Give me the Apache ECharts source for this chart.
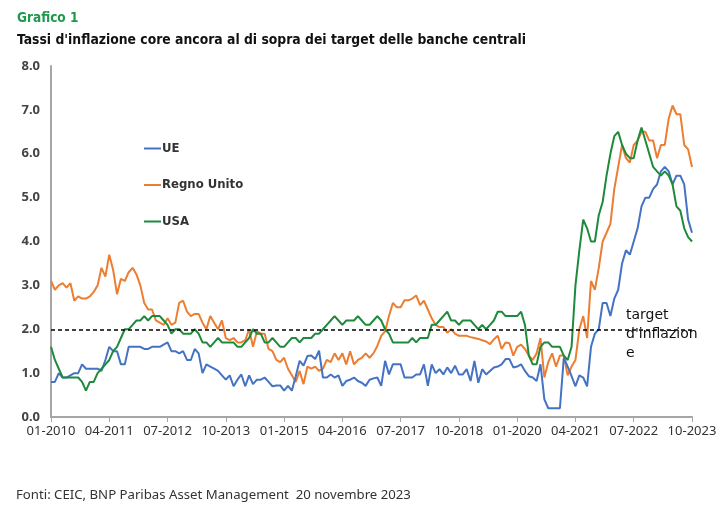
<!DOCTYPE html>
<html>
<head>
<meta charset="utf-8">
<script src="https://cdn.jsdelivr.net/npm/echarts@6/dist/echarts.min.js"></script>
<style>
html,body{margin:0;padding:0;background:#fff;}
#chart{width:725px;height:521px;}
</style>
</head>
<body>
<div id="chart"></div>
<script>
// Monthly categories Jan 2010 - Oct 2023
const months = [];
for (let y = 2010; y <= 2023; y++) {
  for (let m = 1; m <= 12; m++) {
    if (y === 2023 && m > 10) break;
    months.push((m < 10 ? '0' + m : '' + m) + '-' + y);
  }
}

const yTicks = [0, 1, 2, 3, 4, 5, 6, 7, 8];
const targetLevel = 2.0;

const ue = [
  0.8, 0.8, 1.0, 0.9, 0.9, 0.95, 1.0, 1.0, 1.2, 1.1, 1.1, 1.1,
  1.1, 1.05, 1.3, 1.6, 1.5, 1.5, 1.2, 1.2, 1.6, 1.6, 1.6, 1.6,
  1.55, 1.55, 1.6, 1.6, 1.6, 1.65, 1.7, 1.5, 1.5, 1.45, 1.5, 1.3,
  1.3, 1.55, 1.45, 1.0, 1.2, 1.15, 1.1, 1.05, 0.95, 0.85, 0.95, 0.7,
  0.85, 0.97, 0.7, 0.95, 0.75, 0.85, 0.85, 0.9, 0.8, 0.7, 0.72, 0.72,
  0.6, 0.71, 0.6, 0.93, 1.28, 1.17, 1.39, 1.4, 1.32, 1.51, 0.9, 0.9,
  0.97, 0.9, 0.95, 0.71, 0.82, 0.85, 0.9, 0.82, 0.78, 0.71, 0.85, 0.88,
  0.9, 0.71, 1.28, 0.97, 1.2, 1.2, 1.2, 0.9, 0.9, 0.9, 0.97, 0.97,
  1.2, 0.71, 1.2, 1.0, 1.09, 0.97, 1.13, 1.0, 1.17, 0.97, 0.97, 1.09,
  0.82, 1.28, 0.78, 1.09, 0.97, 1.05, 1.13, 1.15, 1.2, 1.32, 1.32, 1.13,
  1.15, 1.2, 1.05, 0.93, 0.9, 0.82, 1.2, 0.4, 0.2, 0.2, 0.2, 0.2,
  1.35, 1.15, 0.93, 0.7, 0.95, 0.9, 0.7, 1.6, 1.9, 2.0, 2.6, 2.6,
  2.3, 2.7, 2.9, 3.5, 3.8, 3.7, 4.0, 4.3, 4.8, 5.0, 5.0, 5.2,
  5.3, 5.6, 5.7, 5.6, 5.3, 5.5, 5.5, 5.3, 4.5, 4.2
];

const regnoUnito = [
  3.1, 2.9, 3.0, 3.05, 2.95, 3.05, 2.65, 2.75, 2.7, 2.7, 2.75, 2.85,
  3.0, 3.4, 3.2, 3.7, 3.35, 2.8, 3.15, 3.1, 3.3, 3.4, 3.25, 3.0,
  2.6, 2.45, 2.45, 2.2, 2.15, 2.1, 2.25, 2.1, 2.15, 2.6, 2.65, 2.4,
  2.3, 2.35, 2.35, 2.15, 2.0, 2.3, 2.15, 2.0, 2.2, 1.8, 1.75, 1.8,
  1.7, 1.7, 1.75, 2.0, 1.6, 1.95, 1.9, 1.9, 1.55, 1.5, 1.3, 1.25,
  1.35, 1.1, 0.95, 0.8, 1.05, 0.75, 1.15, 1.1, 1.15, 1.05, 1.1, 1.3,
  1.25, 1.45, 1.3, 1.45, 1.2, 1.5, 1.2, 1.3, 1.35, 1.45, 1.35, 1.45,
  1.62, 1.85, 1.95, 2.3, 2.6, 2.5, 2.5, 2.66, 2.66, 2.7, 2.77, 2.55,
  2.65, 2.45, 2.25, 2.1, 2.05, 2.05, 1.92, 2.0, 1.9, 1.85, 1.85, 1.85,
  1.82, 1.8, 1.78, 1.75, 1.72, 1.66, 1.77, 1.85, 1.55, 1.7, 1.68, 1.4,
  1.6, 1.65, 1.55, 1.4, 1.3, 1.45, 1.8, 0.9, 1.25, 1.45, 1.15, 1.4,
  1.4, 0.95, 1.15, 1.3, 2.0, 2.3, 1.8, 3.1, 2.9, 3.4, 4.0, 4.2,
  4.4, 5.2, 5.7, 6.2, 5.9, 5.8, 6.2, 6.3, 6.5, 6.5, 6.3, 6.3,
  5.9, 6.2, 6.2, 6.8, 7.1, 6.9, 6.9, 6.2, 6.1, 5.7
];

const usa = [
  1.6, 1.3, 1.1, 0.9, 0.9, 0.9, 0.9, 0.9, 0.8, 0.6, 0.8, 0.8,
  1.0, 1.1, 1.2, 1.3, 1.5, 1.6, 1.8, 2.0, 2.0, 2.1, 2.2, 2.2,
  2.3, 2.2, 2.3, 2.3, 2.3, 2.2, 2.1, 1.9, 2.0, 2.0, 1.9, 1.9,
  1.9, 2.0, 1.9, 1.7, 1.7, 1.6, 1.7, 1.8, 1.7, 1.7, 1.7, 1.7,
  1.6, 1.6, 1.7, 1.8, 2.0, 1.9, 1.9, 1.7, 1.7, 1.8, 1.7, 1.6,
  1.6, 1.7, 1.8, 1.8, 1.7, 1.8, 1.8, 1.8, 1.9, 1.9, 2.0, 2.1,
  2.2, 2.3, 2.2, 2.1, 2.2, 2.2, 2.2, 2.3, 2.2, 2.1, 2.1, 2.2,
  2.3, 2.2, 2.0, 1.9, 1.7, 1.7, 1.7, 1.7, 1.7, 1.8, 1.7, 1.8,
  1.8, 1.8, 2.1, 2.1, 2.2, 2.3, 2.4, 2.2, 2.2, 2.1, 2.2, 2.2,
  2.2, 2.1, 2.0, 2.1, 2.0, 2.1, 2.2, 2.4, 2.4, 2.3, 2.3, 2.3,
  2.3, 2.4, 2.1, 1.4, 1.2, 1.2, 1.6, 1.7, 1.7, 1.6, 1.6, 1.6,
  1.4, 1.3, 1.6, 3.0, 3.8, 4.5, 4.3, 4.0, 4.0, 4.6, 4.9, 5.5,
  6.0, 6.4, 6.5, 6.2, 6.0, 5.9, 5.9, 6.3, 6.6, 6.3, 6.0, 5.7,
  5.6, 5.5, 5.6, 5.5, 5.3, 4.8, 4.7, 4.3, 4.1, 4.0
];

const chart = echarts.init(document.getElementById('chart'), null, {renderer: 'canvas'});
const labelFont = '"Noto Sans", sans-serif';
const condFont = '"Liberation Sans Narrow", "DejaVu Sans Condensed", sans-serif';

chart.setOption({
  backgroundColor: '#fff',
  animation: false,
  title: [
    {
      text: 'Grafico 1', left: 17, top: 11, padding: 0,
      textStyle: {fontFamily: condFont, fontSize: 13.5, fontWeight: 'bold', color: '#1f9a4c'}
    },
    {
      text: "Tassi d'inflazione core ancora al di sopra dei target delle banche centrali", left: 17, top: 33, padding: 0,
      textStyle: {fontFamily: condFont, fontSize: 13.8, fontWeight: 'bold', color: '#111'}
    },
    {
      text: 'Fonti: CEIC, BNP Paribas Asset Management  20 novembre 2023', left: 16, top: 489, padding: 0,
      textStyle: {fontFamily: labelFont, fontSize: 13.2, fontWeight: 'normal', color: '#333'}
    }
  ],
  legend: {
    orient: 'vertical', left: 139, top: 137, itemGap: 23.5,
    icon: 'rect', itemWidth: 17, itemHeight: 2,
    textStyle: {fontFamily: condFont, fontSize: 13, fontWeight: 'bold', color: '#333', padding: [0, 0, 0, -4]},
    data: ['UE', 'Regno Unito', 'USA']
  },
  grid: {left: 51, right: 33, top: 66, bottom: 104, containLabel: false},
  xAxis: {
    type: 'category', data: months, boundaryGap: false,
    axisLine: {lineStyle: {color: '#a6a6a6', width: 2}},
    axisTick: {show: true, interval: 14, length: 5, lineStyle: {color: '#a6a6a6'}},
    axisLabel: {interval: 14, margin: 8, fontFamily: labelFont, fontSize: 13, color: '#333', showMaxLabel: true},
    splitLine: {show: false}
  },
  yAxis: {
    type: 'value', min: yTicks[0], max: yTicks[yTicks.length - 1], interval: 1,
    axisLine: {show: true, lineStyle: {color: '#a6a6a6', width: 2}},
    axisTick: {show: false},
    axisLabel: {margin: 11, fontFamily: labelFont, fontSize: 13, fontWeight: 'bold', color: '#444', formatter: v => v.toFixed(1)},
    splitLine: {show: false}
  },
  series: [
    {
      name: 'UE', type: 'line', data: ue, symbol: 'none', color: '#4472c4',
      lineStyle: {width: 2, color: '#4472c4'}, z: 3,
      markLine: {
        silent: true, symbol: 'none', label: {show: false},
        lineStyle: {type: [4, 3], color: '#000', width: 1.5},
        data: [{yAxis: targetLevel}]
      }
    },
    {
      name: 'Regno Unito', type: 'line', data: regnoUnito, symbol: 'none', color: '#ed7d31',
      lineStyle: {width: 2, color: '#ed7d31'}, z: 2
    },
    {
      name: 'USA', type: 'line', data: usa, symbol: 'none', color: '#1e8a3c',
      lineStyle: {width: 2, color: '#1e8a3c'}, z: 4
    }
  ],
  graphic: [
    {
      type: 'text', left: 626, top: 306, z: 10,
      style: {text: "target\nd'inflazion\ne", fontFamily: '"DejaVu Sans", sans-serif', fontSize: 14, lineHeight: 19, fill: '#111'}
    }
  ]
});
</script>
</body>
</html>
